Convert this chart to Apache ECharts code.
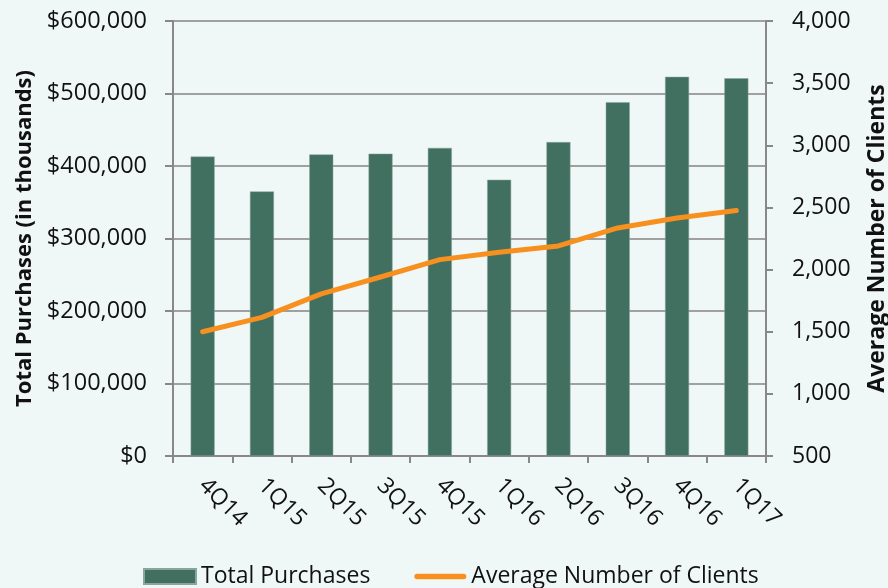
<!DOCTYPE html>
<html>
<head>
<meta charset="utf-8">
<script src="https://cdn.jsdelivr.net/npm/echarts@6/dist/echarts.min.js"></script>
<style>
    html, body { margin: 0; padding: 0; background: #f0f8f7; }
    #chart { width: 888px; height: 588px; }
</style>
</head>
<body>
<div id="chart"></div>
<script>
    const quarters = ['4Q14', '1Q15', '2Q15', '3Q15', '4Q15', '1Q16', '2Q16', '3Q16', '4Q16', '1Q17']
    const totalPurchases = [413000, 365000, 416000, 417000, 425000, 381000, 433000, 488000, 523000, 521000]
    const avgClients = [1500, 1615, 1805, 1940, 2080, 2140, 2190, 2335, 2415, 2475]

    const font = 'Open Sans'
    const axisGray = '#888888'

    const chart = echarts.init(document.getElementById('chart'))
    chart.setOption({
        backgroundColor: '#f0f8f7',
        animation: false,
        textStyle: { fontFamily: font },
        grid: {
            left: 173,
            right: 122,
            top: 21,
            bottom: 132,
            containLabel: false,
            outerBoundsMode: 'none'
        },
        legend: {
            left: 138,
            top: 560,
            itemWidth: 52,
            itemHeight: 15,
            itemGap: 44,
            textStyle: { fontFamily: font, fontSize: 23, color: '#111' },
            data: [
                { name: 'Total Purchases', icon: 'rect' },
                { name: 'Average Number of Clients', icon: 'path://M3,0 h50 a3,3 0 0 1 0,6 h-50 a3,3 0 0 1 0,-6 z' }
            ]
        },
        xAxis: {
            type: 'category',
            data: quarters,
            axisLine: { lineStyle: { color: axisGray, width: 2 } },
            axisTick: { show: true, length: 7, lineStyle: { color: axisGray, width: 2 } },
            axisLabel: {
                rotate: -45,
                margin: 26,
                fontSize: 23,
                color: '#111',
                fontFamily: font
            },
            splitLine: { show: false }
        },
        yAxis: [
            {
                type: 'value',
                min: 0,
                max: 600000,
                interval: 100000,
                name: 'Total Purchases (in thousands)',
                nameLocation: 'middle',
                nameGap: 135,
                nameTextStyle: { fontFamily: font, fontSize: 22, fontWeight: 'bold', color: '#111' },
                axisLine: { show: true, lineStyle: { color: axisGray, width: 2 } },
                axisTick: { show: true, length: 8, lineStyle: { color: axisGray, width: 2 } },
                axisLabel: {
                    margin: 26,
                    fontSize: 23.5,
                    color: '#111',
                    fontFamily: font,
                    formatter: v => '$' + v.toLocaleString('en-US')
                },
                splitLine: { show: true, lineStyle: { color: '#a0a0a0', width: 2 } }
            },
            {
                type: 'value',
                min: 500,
                max: 4000,
                interval: 500,
                position: 'right',
                name: 'Average Number of Clients',
                nameLocation: 'middle',
                nameGap: 100,
                nameTextStyle: { fontFamily: font, fontSize: 23, fontWeight: 'bold', color: '#111' },
                axisLine: { show: true, lineStyle: { color: axisGray, width: 2 } },
                axisTick: { show: true, length: 7, lineStyle: { color: axisGray, width: 2 } },
                axisLabel: {
                    margin: 26,
                    fontSize: 23,
                    color: '#111',
                    fontFamily: font,
                    formatter: v => v.toLocaleString('en-US')
                },
                splitLine: { show: false }
            }
        ],
        series: [
            {
                name: 'Total Purchases',
                type: 'bar',
                data: totalPurchases,
                barWidth: 24,
                itemStyle: { color: '#417060', borderColor: '#8aa69c', borderWidth: 0.5 }
            },
            {
                name: 'Average Number of Clients',
                type: 'line',
                yAxisIndex: 1,
                data: avgClients,
                symbol: 'none',
                z: 5,
                lineStyle: { color: '#f7901e', width: 5, cap: 'round', join: 'round' },
                itemStyle: { color: '#f7901e' }
            }
        ]
    })
</script>
</body>
</html>
